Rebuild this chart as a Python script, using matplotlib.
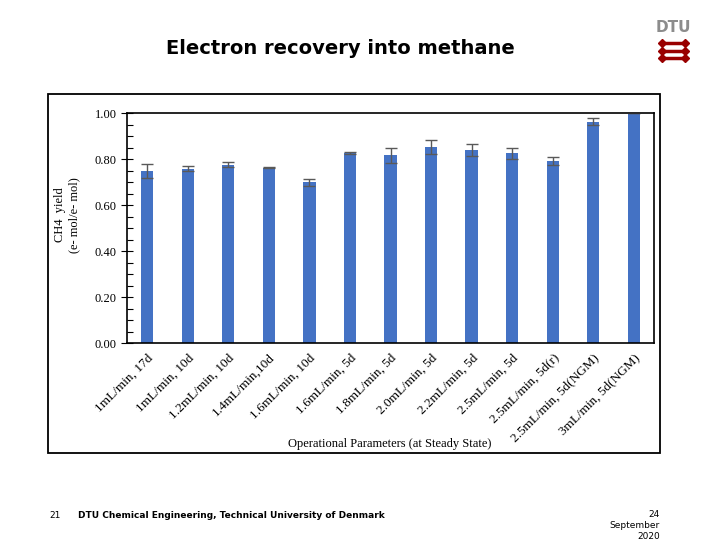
import matplotlib
matplotlib.use("Agg")
import matplotlib.pyplot as plt
from matplotlib.patches import Rectangle
from matplotlib.lines import Line2D
from matplotlib.ticker import MultipleLocator

categories = ["1mL/min, 17d", "1mL/min, 10d", "1.2mL/min, 10d", "1.4mL/min,10d",
              "1.6mL/min, 10d", "1.6mL/min, 5d", "1.8mL/min, 5d", "2.0mL/min, 5d",
              "2.2mL/min, 5d", "2.5mL/min, 5d", "2.5mL/min, 5d(r)",
              "2.5mL/min, 5d(NGM)", "3mL/min, 5d(NGM)"]
yields = [0.75, 0.76, 0.778, 0.765, 0.70, 0.828, 0.818, 0.853, 0.84, 0.826, 0.795, 0.965, 1.0]
errors = [0.03, 0.01, 0.012, 0.003, 0.016, 0.005, 0.033, 0.03, 0.027, 0.025, 0.017, 0.016, 0.0]
yticks = [0.0, 0.2, 0.4, 0.6, 0.8, 1.0]

serif = "Liberation Serif"
fig = plt.figure(figsize=(7.2, 5.4), dpi=100)

# outer frame
fig.patches.append(Rectangle((48/720, 1-453/540), (660-48)/720, (453-94)/540,
                             transform=fig.transFigure, fill=False, lw=1.3, ec="black"))

ax = fig.add_axes([127/720, 1-343.3/540, (654-127)/720, (343.3-113.5)/540])
x = list(range(len(categories)))
ax.bar(x, yields, width=0.3, color="#4472C4", zorder=2)
ax.errorbar(x, yields, yerr=errors, fmt="none", ecolor="#595959", elinewidth=1,
            capsize=4, capthick=1, zorder=3)
ax.set_xlim(-0.5, len(categories) - 0.5)
ax.set_ylim(0, 1.0)
ax.set_yticks(yticks)
ax.set_yticklabels([f"{v:.2f}" for v in yticks], fontfamily=serif, fontsize=9)
ax.yaxis.set_minor_locator(MultipleLocator(0.05))
ax.tick_params(axis="y", which="major", direction="inout", length=8, width=0.8)
ax.tick_params(axis="y", which="minor", direction="in", length=4, width=0.8)
ax.set_xticks(x)
ax.set_xticklabels(categories, rotation=45, ha="right", va="top",
                   rotation_mode="anchor", fontfamily=serif, fontsize=9.5)
ax.tick_params(axis="x", length=0, pad=6)
for s in ax.spines.values():
    s.set_linewidth(1.2)

fig.text(67/720, 1-215/540, "CH4  yield\n(e- mol/e- mol)", rotation=90, ha="center",
         va="center", fontfamily=serif, fontsize=9, multialignment="center")
fig.text(390/720, 1-444/540, "Operational Parameters (at Steady State)", ha="center",
         va="center", fontfamily=serif, fontsize=9)

fig.text(340/720, 1-48/540, "Electron recovery into methane", ha="center", va="center",
         fontsize=14, fontweight="bold", fontfamily="DejaVu Sans")

# footer
fig.text(55/720, 1-516/540, "21", ha="center", va="center", fontsize=6.5)
fig.text(78/720, 1-516/540, "DTU Chemical Engineering, Technical University of Denmark",
         ha="left", va="center", fontsize=6.5, fontweight="bold")
fig.text(660/720, 1-510/540, "24\nSeptember\n2020", ha="right", va="top",
         fontsize=6.5, multialignment="right", linespacing=1.3)

# DTU logo
fig.text(673/720, 1-28/540, "DTU", ha="center", va="center", fontsize=11,
         color="#8c8c8c", fontfamily="Liberation Sans Narrow", fontweight="bold")
for yy in (43, 51, 58):
    fig.lines.append(Line2D([662/720, 685/720], [1-yy/540]*2, transform=fig.transFigure,
                            color="#990000", lw=2.5, marker="D", markersize=4,
                            markevery=[0, 1]))

fig.savefig("out.png", dpi=100)
